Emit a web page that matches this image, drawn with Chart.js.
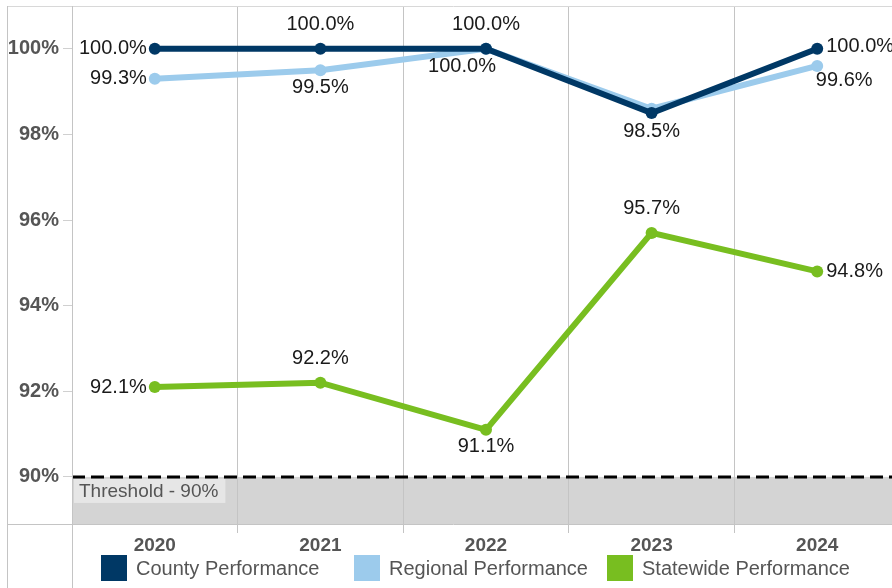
<!DOCTYPE html>
<html lang="en">
<head>
  <meta charset="UTF-8" />
  <title>Performance 2020–2024</title>
  <script src="https://cdn.jsdelivr.net/npm/chart.js"></script>
  <style>
    html, body {
      margin: 0;
      padding: 0;
      background: #fff;
      overflow: hidden;
    }
    #chart {
      display: block;
    }
  </style>
</head>
<body>
  <canvas id="chart" width="906" height="588"></canvas>

  <script>
    // values
    const years = ['2020', '2021', '2022', '2023', '2024'];
    const county = [100.0, 100.0, 100.0, 98.5, 100.0];
    const regional = [99.3, 99.5, 100.0, 98.6, 99.6];
    const statewide = [92.1, 92.2, 91.1, 95.7, 94.8];
    const yTicks = [90, 92, 94, 96, 98, 100];
    const threshold = 90;
    const thresholdText = 'Threshold - 90%';

    // where each value label sits relative to its point: [dx, dy, align] or null
    const countyLabelPos = [[-8, 0, 'right'], [0, -24, 'center'], [0, -24, 'center'], [0, 18, 'center'], [9, -2, 'left']];
    const regionalLabelPos = [[-8, 0, 'right'], [0, 17, 'center'], [-24, 18, 'center'], null, [27, 15, 'center']];
    const statewideLabelPos = [[-8, 0, 'right'], [0, -24, 'center'], [0, 17, 'center'], [0, -24, 'center'], [9, 0, 'left']];

    const FONT = "'Liberation Sans', Arial, sans-serif";
    const GRID = '#c4c4c4';

    function lineSet(label, data, color, labelPos) {
      return {
        label: label,
        data: data,
        borderColor: color,
        backgroundColor: color,
        borderWidth: 6,
        pointRadius: 6,
        pointHoverRadius: 6,
        pointBorderWidth: 0,
        tension: 0,
        labelPos: labelPos
      };
    }

    // no extra room for edge labels, the frame is fixed
    function noPadding(s) {
      s.paddingTop = 0;
      s.paddingBottom = 0;
      s.paddingLeft = 0;
      s.paddingRight = 0;
    }

    // gray band below the threshold, drawn under the grid
    const thresholdBand = {
      id: 'thresholdBand',
      beforeDraw(chart) {
        const { ctx, chartArea: a, scales: { y } } = chart;
        const ty = y.getPixelForValue(threshold);
        ctx.save();
        ctx.fillStyle = '#d4d4d4';
        ctx.fillRect(a.left, ty, a.right - a.left, a.bottom - ty);
        ctx.restore();
      },
      beforeDatasetsDraw(chart) {
        const { ctx, chartArea: a, scales: { y } } = chart;
        const ty = y.getPixelForValue(threshold);
        ctx.save();
        // label box
        ctx.font = '19px ' + FONT;
        const w = ctx.measureText(thresholdText).width;
        ctx.fillStyle = '#e6e6e6';
        ctx.fillRect(a.left + 2, ty + 2, w + 12, 24);
        ctx.fillStyle = '#555';
        ctx.textBaseline = 'middle';
        ctx.textAlign = 'left';
        ctx.fillText(thresholdText, a.left + 7, ty + 15);
        // dashed line
        ctx.strokeStyle = '#000';
        ctx.lineWidth = 3;
        ctx.setLineDash([13, 6]);
        ctx.beginPath();
        ctx.moveTo(a.left, ty);
        ctx.lineTo(a.right, ty);
        ctx.stroke();
        ctx.restore();
      }
    };

    // outer frame, value labels and legend
    const extras = {
      id: 'extras',
      afterDraw(chart) {
        const { ctx, chartArea: a } = chart;
        const H = chart.height;
        ctx.save();
        ctx.lineWidth = 1;
        ctx.strokeStyle = '#d8d8d8';
        ctx.beginPath();
        ctx.moveTo(7, a.top + 0.5);
        ctx.lineTo(a.right, a.top + 0.5);
        ctx.stroke();
        ctx.strokeStyle = GRID;
        ctx.beginPath();
        ctx.moveTo(7.5, a.top);
        ctx.lineTo(7.5, H);
        ctx.moveTo(a.left + 0.5, a.top);
        ctx.lineTo(a.left + 0.5, H);
        ctx.moveTo(7, a.bottom + 0.5);
        ctx.lineTo(a.right, a.bottom + 0.5);
        ctx.stroke();

        // value labels
        ctx.font = '20px ' + FONT;
        ctx.fillStyle = '#1a1a1a';
        ctx.textBaseline = 'middle';
        chart.data.datasets.forEach((ds, i) => {
          const meta = chart.getDatasetMeta(i);
          meta.data.forEach((pt, j) => {
            const pos = ds.labelPos[j];
            if (!pos) return;
            ctx.textAlign = pos[2];
            ctx.fillText(ds.data[j].toFixed(1) + '%', pt.x + pos[0], pt.y + pos[1]);
          });
        });

        // legend
        ctx.font = '20px ' + FONT;
        ctx.textAlign = 'left';
        chart.data.datasets.forEach((ds, i) => {
          const x = 101 + i * 253;
          ctx.fillStyle = ds.borderColor;
          ctx.fillRect(x, 555, 26, 26);
          ctx.fillStyle = '#555';
          ctx.fillText(ds.label, x + 35, 569);
        });
        ctx.restore();
      }
    };

    new Chart(document.getElementById('chart'), {
      type: 'line',
      data: {
        labels: years,
        datasets: [
          lineSet('County Performance', county, '#003865', countyLabelPos),
          lineSet('Regional Performance', regional, '#9ccbec', regionalLabelPos),
          lineSet('Statewide Performance', statewide, '#78be20', statewideLabelPos)
        ]
      },
      options: {
        responsive: false,
        animation: false,
        layout: { padding: { top: 6, right: 0, left: 0, bottom: 0 } },
        plugins: {
          legend: { display: false },
          tooltip: { enabled: false }
        },
        scales: {
          x: {
            offset: true,
            grid: {
              color: GRID,
              lineWidth: 1,
              tickLength: 9,
              offset: true
            },
            border: { display: false },
            ticks: {
              color: '#555',
              padding: 1,
              font: { family: FONT, size: 19, weight: 'bold' }
            },
            afterFit(s) { s.height = 64; noPadding(s); }
          },
          y: {
            min: 88.9,
            max: 101.0,
            grid: {
              drawOnChartArea: false,
              color: '#d0d0d0',
              tickLength: 9
            },
            border: { display: false },
            afterBuildTicks(s) { s.ticks = yTicks.map(v => ({ value: v })); },
            ticks: {
              color: '#555',
              padding: 4,
              font: { family: FONT, size: 20, weight: 'bold' },
              callback: v => v + '%'
            },
            afterFit(s) { s.width = 72; noPadding(s); }
          }
        }
      },
      plugins: [thresholdBand, extras]
    });
  </script>
</body>
</html>
